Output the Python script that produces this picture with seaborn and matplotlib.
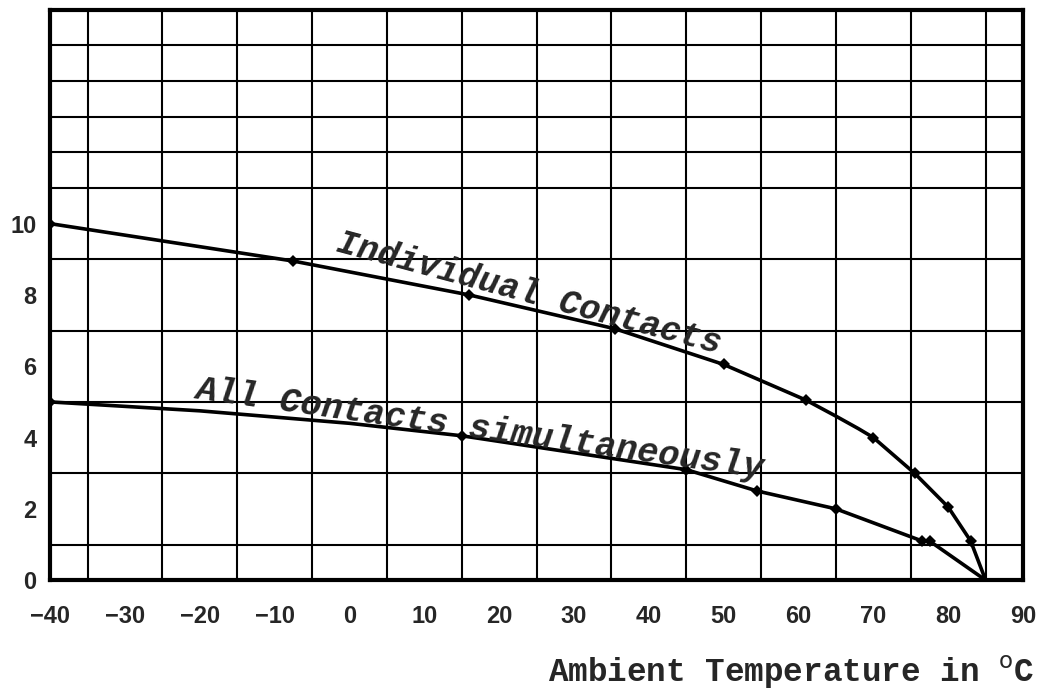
import matplotlib
matplotlib.use("Agg")
import matplotlib.pyplot as plt
import seaborn as sns
import numpy as np

# curve readings (temperature in C, value)
indiv_temp = [-40, -7.5, 16, 35.5, 50, 61, 65, 68, 70, 75.5, 80, 83, 85]
indiv_val = [10, 8.95, 8.0, 7.05, 6.05, 5.05, 4.6, 4.25, 4.0, 3.0, 2.05, 1.1, 0.0]

all_temp = [-40, -20, 0, 15, 45, 54.5, 65, 76.5, 77.5, 85]
all_val = [5.0, 4.75, 4.4, 4.05, 3.1, 2.5, 2.0, 1.1, 1.1, 0.0]

x_ticks = list(range(-40, 91, 10))
y_ticks = list(range(0, 11, 2))

sns.set_style("white")
plt.rcParams['font.family'] = ['Liberation Sans', 'DejaVu Sans']

fig = plt.figure(figsize=(10.45, 6.94), dpi=100)
ax = fig.add_axes([0.048, 0.164, 0.931, 0.822])

# grid paper
ax.set_xticks(np.arange(-40, 91, 5), minor=True)
ax.set_yticks(np.arange(0, 17, 1), minor=True)
ax.grid(which='minor', color='black', linewidth=1.5)
ax.grid(which='major', visible=False)

sns.lineplot(x=indiv_temp, y=indiv_val, sort=False, color='black', linewidth=2.6,
             marker='D', markersize=6, markeredgewidth=0,
             markevery=[0, 1, 2, 3, 4, 5, 8, 9, 10, 11], ax=ax)
sns.lineplot(x=all_temp, y=all_val, sort=False, color='black', linewidth=2.6,
             marker='D', markersize=6, markeredgewidth=0,
             markevery=[0, 3, 4, 5, 6, 7, 8], ax=ax)

ax.set_xlim(-40, 90)
ax.set_ylim(0, 16)
ax.set_xticks(x_ticks)
ax.set_yticks(y_ticks)
ax.tick_params(which='major', length=4, width=2, direction='out', labelsize=17)
ax.tick_params(axis='x', which='major', pad=14)
ax.tick_params(axis='y', which='major', pad=6)
ax.tick_params(which='minor', length=0)
for lab in ax.get_xticklabels() + ax.get_yticklabels():
    lab.set_fontweight('bold')
for s in ax.spines.values():
    s.set_linewidth(3)
    s.set_color('black')

ax.text(24, 8.05, "Individual Contacts", rotation=-15, ha='center', va='center',
        rotation_mode='anchor', fontsize=25, fontweight='bold', style='italic',
        family=['Liberation Mono', 'DejaVu Sans Mono'])
ax.text(17.5, 4.25, "All Contacts simultaneously", rotation=-8, ha='center', va='center',
        rotation_mode='anchor', fontsize=25.5, fontweight='bold', style='italic',
        family=['Liberation Mono', 'DejaVu Sans Mono'])

fig.text(0.99, 0.032, "Ambient Temperature in $^{\\mathrm{o}}$C", ha='right', va='center',
         fontsize=23.5, fontweight='bold', family=['Liberation Mono', 'DejaVu Sans Mono'])

fig.savefig("out.png", dpi=100, facecolor='white')
